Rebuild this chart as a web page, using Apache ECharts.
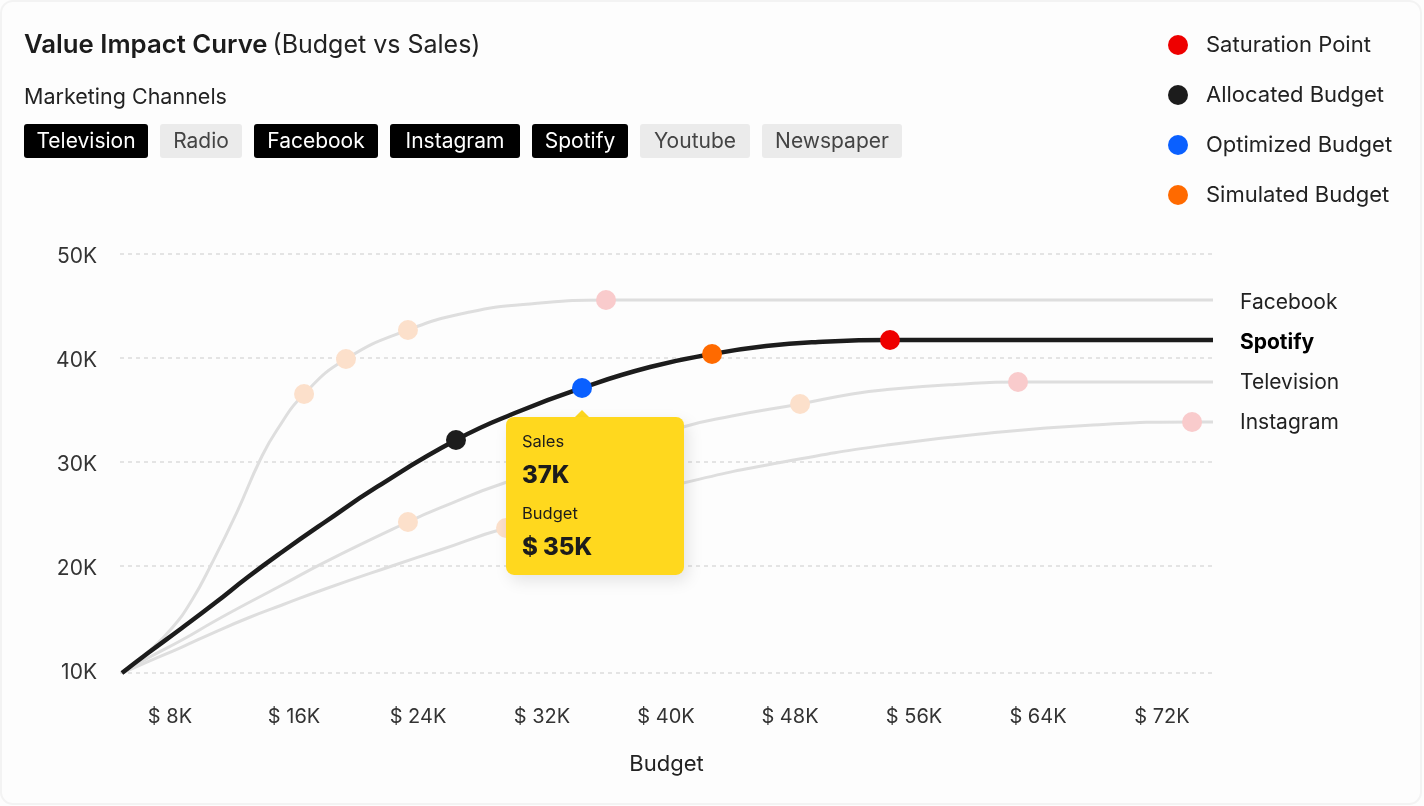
<!DOCTYPE html>
<html>
<head>
<meta charset="utf-8">
<title>Value Impact Curve</title>
<script src="https://cdn.jsdelivr.net/npm/echarts@6/dist/echarts.min.js"></script>
<style>
html, body { margin: 0; padding: 0; background: #fff; }
#main { width: 1424px; height: 806px; }
</style>
</head>
<body>
<div id="main"></div>
<script>
// budget and sales are both in thousands
var channels = ['Television', 'Radio', 'Facebook', 'Instagram', 'Spotify', 'Youtube', 'Newspaper'];
var activeChannels = ['Television', 'Facebook', 'Instagram', 'Spotify'];

var budgetTicks = [8, 16, 24, 32, 40, 48, 56, 64, 72];
var salesTicks = [10, 20, 30, 40, 50];
var salesGridLines = [9.712, 20, 30, 40, 50];

var facebookCurve = [[4.9,9.71],[6.58,11.73],[8.13,14.04],[9.42,16.73],[10.71,20.29],[12.32,25.19],[13.81,30.19],[14.9,33.08],[16.65,36.54],[19.35,39.9],[23.35,42.69],[27.35,44.42],[31.23,45.19],[36.13,45.58],[38.32,45.58],[75.29,45.58]];
var spotifyCurve = [[4.9,9.71],[6.58,11.63],[8.77,14.04],[10.9,16.44],[13.03,18.94],[15.23,21.35],[18,24.23],[21.35,27.6],[26.45,32.12],[30.58,34.9],[34.58,37.12],[38.97,39.13],[42.97,40.38],[46.45,41.15],[49.81,41.54],[54.45,41.73],[56.39,41.73],[75.29,41.73]];
var televisionCurve = [[4.9,9.71],[6.58,11.15],[8.77,12.88],[10.9,14.71],[13.03,16.44],[15.23,18.17],[18,20.38],[23.35,24.23],[25.42,25.58],[29.74,28.08],[41.1,33.37],[44.26,34.42],[48.65,35.58],[52,36.54],[54.26,36.97],[58.65,37.45],[62.71,37.69],[64.77,37.69],[75.29,37.69]];
var instagramCurve = [[4.9,9.71],[6.58,10.8],[8.77,12.21],[10.9,13.65],[13.03,15],[15.23,16.25],[18,17.79],[22.32,20],[25.42,21.54],[29.68,23.65],[41.1,27.98],[47.55,30],[54.26,31.63],[60.9,32.79],[67.55,33.56],[73.94,33.85],[75.29,33.85]];

var saturationPoint = [[54.45,41.73]];
var allocatedBudget = [[26.45,32.12]];
var optimizedBudget = [[34.58,37.12]];
var simulatedBudget = [[42.97,40.38]];
var fadedBudgets = [[16.65,36.54],[19.35,39.9],[23.35,42.69],[23.35,24.23],[48.65,35.58],[29.68,23.65]];
var fadedSaturation = [[36.13,45.58],[62.71,37.69],[73.94,33.85]];

var tipSales = '37K';
var tipBudget = '$ 35K';

var font = 'Inter';
var chipWidths = [124, 82, 124, 130, 96, 110, 140];

function curveSeries(name, data, active, labelShift){
	return {
		name: name,
		type: 'line',
		data: data,
		smooth: 0.5,
		showSymbol: false,
		z: active ? 3 : 2,
		lineStyle: { color: active ? '#1c1c1c' : '#dedede', width: active ? 4.5 : 3, cap: 'butt' },
		endLabel: {
			show: true,
			formatter: '{a}',
			distance: 27,
			offset: [0, labelShift],
			fontFamily: font,
			fontSize: 21,
			fontWeight: active ? 700 : 400,
			color: active ? '#000' : '#222'
		},
		labelLayout: { moveOverlap: false }
	};
}

function pointSeries(name, data, color, z){
	return {
		name: name,
		type: 'scatter',
		data: data,
		symbolSize: 20,
		itemStyle: { color: color, opacity: 1 },
		z: z
	};
}

var chart = echarts.init(document.getElementById('main'));
var option = {
	animation: false,
	backgroundColor: '#fdfdfd',
	title: {
		left: 19,
		top: 27,
		text: '{b|Value Impact Curve} {n|(Budget vs Sales)}',
		textStyle: {
			rich: {
				b: { fontFamily: font, fontSize: 25.75, fontWeight: 600, color: '#1c1c1c' },
				n: { fontFamily: font, fontSize: 25, fontWeight: 400, color: '#222' }
			}
		}
	},
	legend: {
		orient: 'vertical',
		left: 1163,
		top: 29,
		itemWidth: 20,
		itemHeight: 20,
		itemGap: 28,
		icon: 'circle',
		selectedMode: false,
		data: ['Saturation Point', 'Allocated Budget', 'Optimized Budget', 'Simulated Budget'],
		textStyle: { fontFamily: font, fontSize: 22, color: '#222', padding: [0, 0, 0, 13] }
	},
	grid: { left: 120, right: 211, top: 254, bottom: 133 },
	xAxis: {
		type: 'value',
		min: 4.774,
		max: 75.29,
		name: 'Budget',
		nameLocation: 'middle',
		nameGap: 80,
		nameTextStyle: { fontFamily: font, fontSize: 22, color: '#222' },
		axisLine: { show: false },
		axisTick: { show: false, customValues: budgetTicks },
		splitLine: { show: false },
		axisLabel: {
			customValues: budgetTicks,
			formatter: '$ {value}K',
			margin: 34,
			fontFamily: font,
			fontSize: 20,
			color: '#333'
		}
	},
	yAxis: {
		type: 'value',
		min: 9.712,
		max: 50,
		axisLine: { show: false },
		axisTick: { show: false, customValues: salesGridLines },
		splitLine: { show: true, lineStyle: { color: '#dcdcdc', width: 1.5, type: [4, 4] } },
		axisLabel: {
			customValues: salesTicks,
			formatter: '{value}K',
			margin: 23,
			verticalAlign: 'top',
			lineHeight: 6,
			fontFamily: font,
			fontSize: 21,
			color: '#333'
		}
	},
	series: [
		curveSeries('Facebook', facebookCurve, false, 3),
		curveSeries('Television', televisionCurve, false, 1),
		curveSeries('Instagram', instagramCurve, false, 1),
		curveSeries('Spotify', spotifyCurve, true, 3),
		pointSeries('Faded Budgets', fadedBudgets, '#fce0cb', 4),
		pointSeries('Faded Saturation', fadedSaturation, '#f9cbcc', 4),
		pointSeries('Saturation Point', saturationPoint, '#ee0000', 5),
		pointSeries('Allocated Budget', allocatedBudget, '#1c1c1c', 5),
		pointSeries('Optimized Budget', optimizedBudget, '#0a60ff', 5),
		pointSeries('Simulated Budget', simulatedBudget, '#ff6a00', 5)
	]
};
chart.setOption(option);

// header: sub heading and channel chips
var graphics = [
	{ type: 'rect', silent: true, z: -10, shape: { x: 1, y: 1, width: 1420, height: 803, r: 12 }, style: { fill: '#fdfdfd', stroke: '#f3f3f3', lineWidth: 2 } },
	{ type: 'text', x: 24, y: 98, style: { text: 'Marketing Channels', fontFamily: font, fontSize: 21.5, fill: '#222', verticalAlign: 'middle' } }
];
var chipX = 24;
channels.forEach(function(name, i){
	var on = activeChannels.indexOf(name) >= 0;
	graphics.push({ type: 'rect', shape: { x: chipX, y: 124, width: chipWidths[i], height: 34, r: 3 }, style: { fill: on ? '#000' : '#ebebeb' } });
	graphics.push({ type: 'text', x: chipX + chipWidths[i] / 2, y: 142, style: { text: name, fontFamily: font, fontSize: 21, fill: on ? '#fff' : '#444', align: 'center', verticalAlign: 'middle' } });
	chipX += chipWidths[i] + 12;
});

// yellow callout hangs under the optimized budget point
var p = chart.convertToPixel({ gridIndex: 0 }, optimizedBudget[0]);
var tipX = p[0] - 76, tipY = p[1] + 29;
graphics.push({ type: 'polygon', z: 20, shape: { points: [[p[0] - 8, tipY + 1], [p[0], tipY - 7], [p[0] + 8, tipY + 1]] }, style: { fill: '#ffd81e' } });
graphics.push({ type: 'rect', z: 20, shape: { x: tipX, y: tipY, width: 178, height: 158, r: 8 }, style: { fill: '#ffd81e', shadowBlur: 16, shadowColor: 'rgba(0,0,0,0.10)', shadowOffsetY: 6, shadowOffsetX: 4 } });
[
	['Sales', 25, 16.5, 400], [tipSales, 59, 24, 800],
	['Budget', 97, 16.5, 400], [tipBudget, 131, 24, 800]
].forEach(function(t){
	graphics.push({ type: 'text', z: 21, x: tipX + 16, y: tipY + t[1], style: { text: t[0], fontFamily: font, fontSize: t[2], fontWeight: t[3], fill: '#1c1c1c', verticalAlign: 'middle' } });
});
chart.setOption({ graphic: graphics });
</script>
</body>
</html>
